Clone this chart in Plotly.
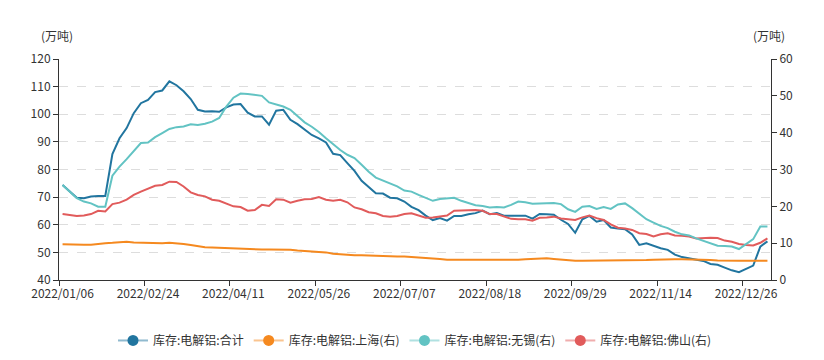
import plotly.graph_objects as go

dates = [
    "2022/01/06", "2022/01/10", "2022/01/13", "2022/01/17", "2022/01/20", "2022/01/24", "2022/01/27",
    "2022/02/07", "2022/02/10", "2022/02/14", "2022/02/17", "2022/02/21", "2022/02/24", "2022/02/28",
    "2022/03/03", "2022/03/07", "2022/03/10", "2022/03/14", "2022/03/17", "2022/03/21", "2022/03/24",
    "2022/03/28", "2022/03/31", "2022/04/07", "2022/04/11", "2022/04/14", "2022/04/18", "2022/04/21",
    "2022/04/25", "2022/04/28", "2022/05/05", "2022/05/09", "2022/05/12", "2022/05/16", "2022/05/19",
    "2022/05/23", "2022/05/26", "2022/05/30", "2022/06/02", "2022/06/06", "2022/06/09", "2022/06/13",
    "2022/06/16", "2022/06/20", "2022/06/23", "2022/06/27", "2022/06/30", "2022/07/04", "2022/07/07",
    "2022/07/11", "2022/07/14", "2022/07/18", "2022/07/21", "2022/07/25", "2022/07/28", "2022/08/01",
    "2022/08/04", "2022/08/08", "2022/08/11", "2022/08/15", "2022/08/18", "2022/08/22", "2022/08/25",
    "2022/08/29", "2022/09/01", "2022/09/05", "2022/09/08", "2022/09/13", "2022/09/15", "2022/09/19",
    "2022/09/22", "2022/09/26", "2022/09/29", "2022/10/08", "2022/10/10", "2022/10/13", "2022/10/17",
    "2022/10/20", "2022/10/24", "2022/10/27", "2022/10/31", "2022/11/03", "2022/11/07", "2022/11/10",
    "2022/11/14", "2022/11/17", "2022/11/21", "2022/11/24", "2022/11/28", "2022/12/01", "2022/12/05",
    "2022/12/08", "2022/12/12", "2022/12/15", "2022/12/19", "2022/12/22", "2022/12/26", "2022/12/29",
    "2023/01/03", "2023/01/05",
]

total = [
    74.4, 72.0, 69.8, 69.6, 70.2, 70.4, 70.4, 85.6, 91.3, 95.0,
    100.4, 104.0, 105.2, 108.0, 108.6, 111.9, 110.5, 108.3, 105.5, 101.6,
    101.0, 101.1, 100.9, 102.5, 103.5, 103.7, 100.6, 99.2, 99.2, 96.2,
    101.3, 101.6, 98.0, 96.4, 94.3, 92.5, 91.3, 89.8, 85.7, 85.2,
    82.3, 79.5, 75.9, 73.8, 71.4, 71.3, 69.8, 69.6, 68.4, 66.5,
    65.3, 63.3, 61.7, 62.4, 61.5, 63.2, 63.2, 63.8, 64.2, 65.1,
    63.8, 64.2, 63.3, 63.3, 63.3, 63.3, 62.2, 63.9, 63.8, 63.6,
    61.8, 60.3, 57.1, 62.0, 63.2, 61.1, 61.7, 59.0, 58.6, 58.4,
    56.5, 52.7, 53.3, 52.3, 51.5, 50.9, 49.2, 48.3, 47.9, 47.4,
    46.9, 45.8, 45.5, 44.5, 43.5, 42.8, 44.0, 45.2, 52.1, 54.0,
]

shanghai = [
    9.7, 9.6, 9.6, 9.6, 9.6, 9.9, 10.0, 10.1, 10.3, 10.4,
    10.2, 10.1, 10.0, 9.9, 10.0, 10.1, 10.0, 9.8, 9.5, 9.1,
    8.9, 8.8, 8.7, 8.6, 8.6, 8.6, 8.4, 8.3, 8.3, 8.3,
    8.3, 8.2, 8.2, 8.0, 7.9, 7.8, 7.7, 7.5, 7.1, 6.9,
    6.7, 6.7, 6.7, 6.6, 6.5, 6.5, 6.5, 6.4, 6.4, 6.3,
    6.2, 5.9, 5.8, 5.7, 5.5, 5.5, 5.4, 5.3, 5.4, 5.5,
    5.5, 5.4, 5.3, 5.4, 5.5, 5.6, 5.7, 5.8, 5.9, 5.7,
    5.5, 5.3, 5.2, 5.2, 5.2, 5.3, 5.4, 5.3, 5.2, 5.2,
    5.3, 5.3, 5.4, 5.5, 5.6, 5.6, 5.6, 5.6, 5.6, 5.5,
    5.4, 5.4, 5.3, 5.2, 5.2, 5.2, 5.2, 5.2, 5.2, 5.2,
]

wuxi = [
    25.8, 24.0, 22.2, 21.3, 20.8, 19.9, 19.9, 28.3, 30.8, 32.8,
    34.9, 37.2, 37.3, 38.8, 39.9, 41.0, 41.5, 41.7, 42.3, 42.1,
    42.4, 43.0, 44.0, 47.1, 49.5, 50.6, 50.5, 50.3, 50.0, 48.2,
    47.6, 47.1, 46.2, 44.4, 42.8, 41.6, 40.2, 38.5, 36.8, 35.3,
    34.0, 33.1, 31.3, 29.4, 27.8, 27.0, 26.3, 25.4, 24.3, 24.0,
    23.1, 22.2, 21.5, 22.0, 22.2, 22.3, 21.5, 21.0, 20.3, 20.1,
    19.7, 19.8, 19.7, 20.4, 21.3, 21.1, 20.7, 20.8, 20.8, 20.9,
    20.6, 19.2, 18.5, 19.9, 20.1, 19.3, 19.8, 19.3, 20.5, 20.8,
    19.5, 17.9, 16.5, 15.6, 14.7, 14.1, 13.1, 12.4, 12.1, 11.3,
    10.7, 10.0, 9.3, 9.2, 9.1, 8.4, 9.8, 11.1, 14.5, 14.5,
]

foshan = [
    17.9, 17.6, 17.4, 17.5, 17.9, 18.8, 18.6, 20.6, 21.0, 21.8,
    23.1, 24.0, 24.7, 25.6, 25.8, 26.7, 26.6, 25.4, 23.8, 23.1,
    22.7, 21.8, 21.5, 20.8, 20.0, 19.8, 18.8, 19.0, 20.4, 20.1,
    21.9, 21.8, 21.0, 21.5, 21.9, 22.0, 22.5, 21.8, 21.5, 21.8,
    21.1, 19.7, 19.2, 18.4, 18.1, 17.4, 17.2, 17.4, 17.9, 18.1,
    17.5, 16.9, 17.0, 17.2, 17.5, 18.8, 18.9, 19.0, 19.0, 18.8,
    17.9, 17.9, 17.2, 16.6, 16.5, 16.5, 16.1, 16.9, 17.0, 17.2,
    16.7, 16.5, 16.3, 17.0, 17.5, 16.8, 16.3, 15.1, 14.2, 14.0,
    13.6, 12.7, 12.5, 11.8, 12.4, 12.7, 12.1, 12.0, 11.8, 11.3,
    11.5, 11.5, 11.4, 10.7, 10.4, 9.8, 9.5, 9.4, 10.1, 11.3,
]

names = ["库存:电解铝:合计", "库存:电解铝:上海(右)", "库存:电解铝:无锡(右)", "库存:电解铝:佛山(右)"]
colors = ["#21759f", "#f5891f", "#62c3c3", "#e15b5b"]
light = ["rgba(33,117,159,0.5)", "rgba(245,137,31,0.5)", "rgba(98,195,195,0.5)", "rgba(225,91,91,0.5)"]
series = [total, shanghai, wuxi, foshan]
axes = ["y", "y2", "y2", "y2"]

FONT = "Noto Sans CJK SC, Noto Sans, sans-serif"

fig = go.Figure()
for k in [1, 3, 2, 0]:
    fig.add_trace(go.Scatter(
        x=dates, y=series[k], yaxis=axes[k], mode="lines",
        line=dict(color=colors[k], width=2), showlegend=False, hoverinfo="skip",
    ))
for k in range(4):
    fig.add_trace(go.Scatter(
        x=[None], y=[None], yaxis=axes[k], mode="lines+markers", name=names[k],
        line=dict(color=light[k], width=2),
        marker=dict(color=colors[k], size=11),
        showlegend=True,
    ))

# page body has an 8px default margin, so the figure is sized/offset to compensate
fig.update_layout(
    width=816, height=352,
    margin=dict(l=51, r=53, t=51, b=80, autoexpand=False),
    paper_bgcolor="white", plot_bgcolor="white",
    font=dict(family=FONT, size=12, color="#333"),
    showlegend=True,
    legend=dict(orientation="h", x=0.5, xanchor="center", y=-0.208, yanchor="top",
                font=dict(size=12, color="#333"), itemwidth=30, traceorder="normal"),
    xaxis=dict(
        type="category", range=[-0.5, len(dates) - 0.5],
        tickmode="linear", tick0=0, dtick=12, tickson="boundaries",
        tickangle=0, automargin=False, ticklabelstandoff=3,
        showline=True, linecolor="#333", linewidth=1,
        ticks="outside", ticklen=5, tickcolor="#333",
        showgrid=False, zeroline=False,
        tickfont=dict(size=12, color="#333"),
    ),
    yaxis=dict(
        range=[40, 120], dtick=10, tick0=40, automargin=False,
        showline=True, linecolor="#333", linewidth=1,
        ticks="outside", ticklen=5, tickcolor="#333",
        showgrid=True, gridcolor="#dddddd", griddash="dash", gridwidth=1,
        zeroline=False, tickfont=dict(size=12, color="#333"),
    ),
    yaxis2=dict(
        range=[0, 60], dtick=10, tick0=0, overlaying="y", side="right", automargin=False,
        showline=True, linecolor="#333", linewidth=1,
        ticks="outside", ticklen=5, tickcolor="#333",
        showgrid=False, zeroline=False, tickfont=dict(size=12, color="#333"),
    ),
    annotations=[
        dict(text="(万吨)", xref="paper", yref="paper", x=-0.003, y=1.105,
             xanchor="center", yanchor="middle", showarrow=False,
             font=dict(size=12, color="#333")),
        dict(text="(万吨)", xref="paper", yref="paper", x=0.997, y=1.105,
             xanchor="center", yanchor="middle", showarrow=False,
             font=dict(size=12, color="#333")),
    ],
)

fig.write_html("out.html")
